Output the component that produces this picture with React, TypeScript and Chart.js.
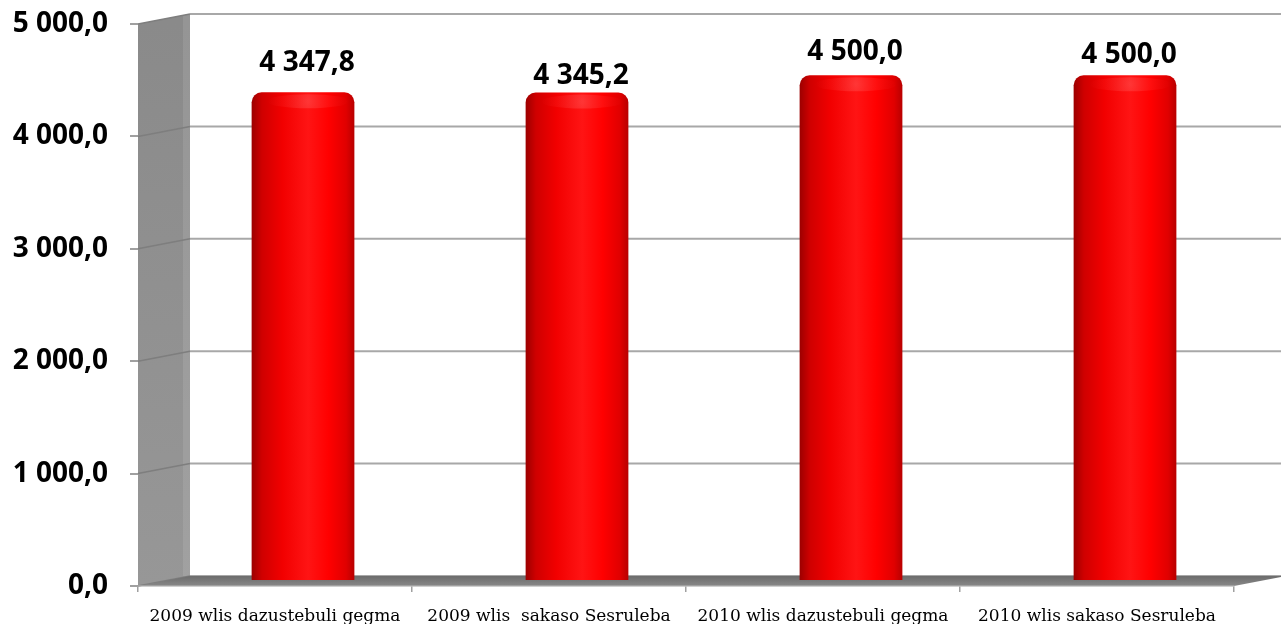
import React, { useEffect, useRef } from "react";
import { Chart, registerables } from "chart.js";

Chart.register(...registerables);

const categories = [
  "2009 wlis dazustebuli gegma",
  "2009 wlis  sakaso Sesruleba",
  "2010 wlis dazustebuli gegma",
  "2010 wlis sakaso Sesruleba",
];
const values = [4347.8, 4345.2, 4500.0, 4500.0];
const yMin = 0;
const yMax = 5000;
const yStep = 1000;

const fmt = (v: number) => {
  const s = v.toFixed(1).replace(".", ",");
  const [i, d] = s.split(",");
  return i.replace(/\B(?=(\d{3})+(?!\d))/g, " ") + "," + d;
};

const DEPTH_X = 52;
const DEPTH_Y = -10;
const BAR_DX = 28;
const BAR_DY = -5;
const LABEL_DY = [-29, -17, -23, -20];
const LABEL_DX = 4;

const wallsPlugin = {
  id: "walls3d",
  beforeDraw(chart: any) {
    const { ctx, chartArea } = chart;
    const ys = chart.scales.y;
    const { left, right, bottom } = chartArea;
    const topY = ys.getPixelForValue(yMax);
    ctx.save();
    const g = ctx.createLinearGradient(0, topY, 0, bottom);
    g.addColorStop(0, "#8a8a8a");
    g.addColorStop(1, "#979797");
    ctx.fillStyle = g;
    ctx.beginPath();
    ctx.moveTo(left, topY);
    ctx.lineTo(left + DEPTH_X, topY + DEPTH_Y);
    ctx.lineTo(left + DEPTH_X, bottom + DEPTH_Y);
    ctx.lineTo(left, bottom);
    ctx.closePath();
    ctx.fill();
    ctx.fillStyle = "rgba(255,255,255,0.1)";
    ctx.fillRect(left + DEPTH_X - 7, topY + DEPTH_Y, 7, bottom - topY);
    for (let v = yMin; v <= yMax; v += yStep) {
      const yy = ys.getPixelForValue(v);
      ctx.strokeStyle = "#a8a8a8";
      ctx.lineWidth = 2;
      ctx.beginPath();
      ctx.moveTo(left + DEPTH_X, yy + DEPTH_Y);
      ctx.lineTo(right + DEPTH_X + 10, yy + DEPTH_Y);
      ctx.stroke();
      ctx.strokeStyle = "#7e7e7e";
      ctx.lineWidth = 1.5;
      ctx.beginPath();
      ctx.moveTo(left, yy);
      ctx.lineTo(left + DEPTH_X, yy + DEPTH_Y);
      ctx.stroke();
    }
    const fg = ctx.createLinearGradient(0, bottom + DEPTH_Y, 0, bottom);
    fg.addColorStop(0, "#6c6c6c");
    fg.addColorStop(1, "#888888");
    ctx.fillStyle = fg;
    ctx.beginPath();
    ctx.moveTo(left, bottom);
    ctx.lineTo(left + DEPTH_X, bottom + DEPTH_Y);
    ctx.lineTo(right + DEPTH_X, bottom + DEPTH_Y);
    ctx.lineTo(right, bottom);
    ctx.closePath();
    ctx.fill();
    ctx.restore();
  },
  beforeDatasetsDraw(chart: any) {
    chart.ctx.save();
    chart.ctx.translate(BAR_DX, BAR_DY);
  },
  afterDatasetsDraw(chart: any) {
    const ctx = chart.ctx;
    const meta = chart.getDatasetMeta(0);
    meta.data.forEach((el: any, i: number) => {
      const { x, y, width } = el.getProps(["x", "y", "width"], true);
      ctx.save();
      ctx.beginPath();
      ctx.ellipse(x + width * 0.05, y + 9, width * 0.4, 7, 0, 0, Math.PI * 2);
      const rg = ctx.createRadialGradient(x + width * 0.05, y + 9, 1, x + width * 0.05, y + 9, width * 0.4);
      rg.addColorStop(0, "rgba(255,130,130,0.3)");
      rg.addColorStop(1, "rgba(255,60,60,0)");
      ctx.fillStyle = rg;
      ctx.fill();
      ctx.restore();
      ctx.save();
      ctx.font = "bold 28px 'Open Sans'";
      ctx.fillStyle = "#000";
      ctx.textAlign = "center";
      ctx.textBaseline = "middle";
      ctx.fillText(fmt(values[i]), x + LABEL_DX, y + LABEL_DY[i]);
      ctx.restore();
    });
    ctx.restore();
  },
};

export default function App() {
  const ref = useRef<HTMLCanvasElement | null>(null);
  useEffect(() => {
    document.body.style.margin = "0";
    const canvas = ref.current!;
    const chart = new Chart(canvas, {
      type: "bar",
      data: {
        labels: categories,
        datasets: [
          {
            data: values,
            clip: false as any,
            barPercentage: 0.375,
            categoryPercentage: 1,
            borderRadius: { topLeft: 10, topRight: 10, bottomLeft: 0, bottomRight: 0 },
            borderSkipped: false,
            backgroundColor: (c: any) => {
              const chart = c.chart;
              const xs = chart.scales?.x;
              if (!xs || c.type !== "data" || !chart.chartArea) return "#ff0000";
              const cx = xs.getPixelForValue(c.dataIndex);
              const w = (xs.width / categories.length) * 0.375;
              const g = chart.ctx.createLinearGradient(cx - w / 2, 0, cx + w / 2, 0);
              g.addColorStop(0, "#9c0000");
              g.addColorStop(0.1, "#cf0000");
              g.addColorStop(0.3, "#f20000");
              g.addColorStop(0.55, "#ff1414");
              g.addColorStop(0.75, "#ff0000");
              g.addColorStop(0.92, "#e00000");
              g.addColorStop(1, "#b80000");
              return g;
            },
          },
        ],
      },
      options: {
        animation: false,
        responsive: false,
        maintainAspectRatio: false,
        layout: { padding: { top: 24, right: 47, left: 0, bottom: 0 } },
        plugins: { legend: { display: false }, tooltip: { enabled: false } },
        scales: {
          x: {
            afterFit: (s: any) => {
              s.height = 38;
              s.paddingLeft = 0;
              s.paddingRight = 0;
            },
            grid: {
              drawOnChartArea: false,
              drawTicks: true,
              tickLength: 6,
              color: "#a0a0a0",
              lineWidth: 1.5,
              offset: true,
            },
            border: { display: true, color: "#a0a0a0", width: 1.5 },
            ticks: {
              color: "#000",
              padding: 14,
              maxRotation: 0,
              autoSkip: false,
              font: { family: "'DejaVu Serif'", size: 17 },
            },
          },
          y: {
            min: yMin,
            max: yMax,
            afterFit: (s: any) => {
              s.width = 138;
              s.paddingTop = 0;
              s.paddingBottom = 0;
            },
            grid: {
              drawOnChartArea: false,
              drawTicks: true,
              tickLength: 8,
              color: "#a0a0a0",
              lineWidth: 2,
            },
            border: { display: false },
            ticks: {
              stepSize: yStep,
              color: "#000",
              padding: 22,
              font: { family: "'Open Sans'", size: 28, weight: "bold" },
              callback: (v: any) => fmt(Number(v)),
            },
          },
        },
      },
      plugins: [wallsPlugin],
    });
    return () => chart.destroy();
  }, []);
  return (
    <div style={{ width: 1281, height: 624, background: "#fff" }}>
      <canvas ref={ref} width={1281} height={624} style={{ display: "block" }} />
    </div>
  );
}
